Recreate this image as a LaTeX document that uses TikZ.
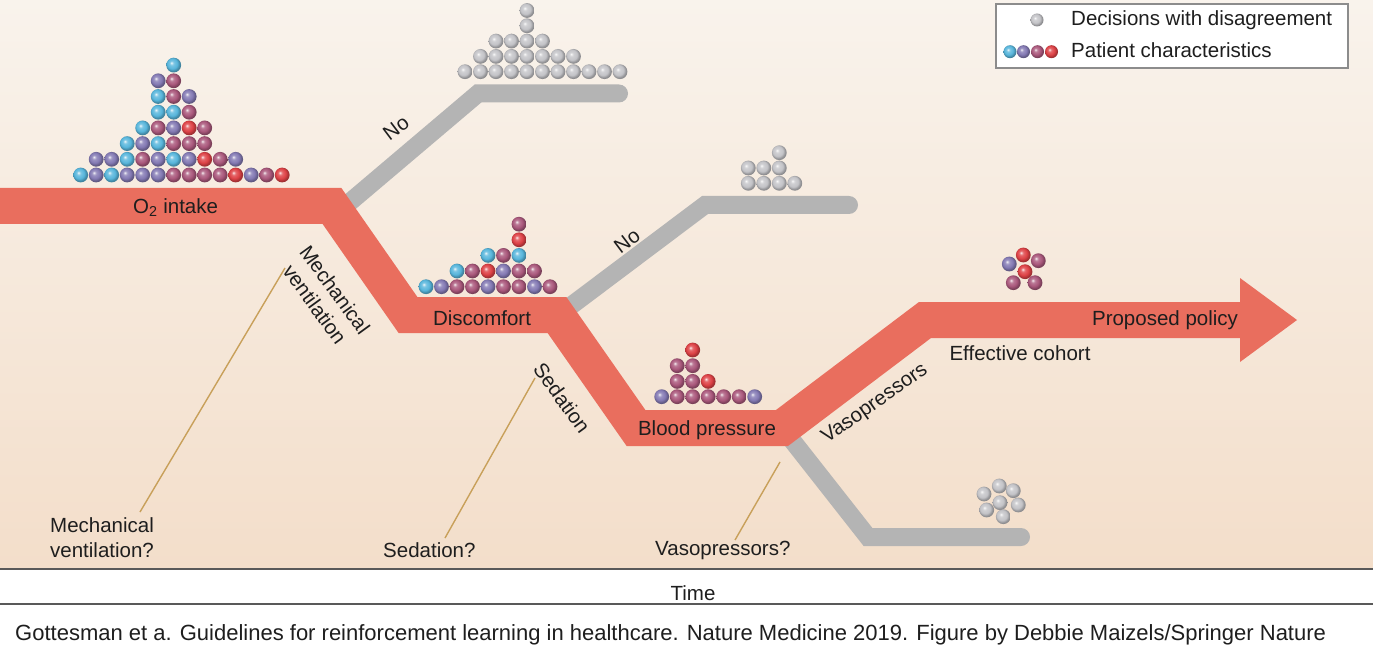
\documentclass[tikz,border=0pt]{standalone}
\usepackage{fontspec}
\setmainfont{Liberation Sans}
\definecolor{bgtop}{RGB}{249,243,236}
\definecolor{bgbot}{RGB}{243,222,202}
\definecolor{bandred}{RGB}{233,110,94}
\definecolor{branchgray}{RGB}{180,180,180}
\definecolor{tan}{RGB}{200,160,90}
\definecolor{txt}{RGB}{30,30,30}
\definecolor{cB}{RGB}{88,182,220}
\definecolor{cP}{RGB}{132,122,180}
\definecolor{cM}{RGB}{170,88,124}
\definecolor{cR}{RGB}{222,66,70}
\definecolor{cG}{RGB}{196,196,200}
\colorlet{softball}{cG}
\pgfdeclareradialshading[softball]{softball}{\pgfqpoint{-8bp}{8bp}}{color(0bp)=(softball!10!white); color(7bp)=(softball!80!white); color(17bp)=(softball); color(25bp)=(softball!72!black); color(50bp)=(softball!60!black)}
\tikzset{softball color/.style={/utils/exec={\colorlet{softball}{#1}}, shading=softball}}
\newcommand\ballrow[3]{\foreach \cc [count=\i from 0] in {#3} {\shade[softball color=\cc] ({#1+\i*15.5},#2) circle (7.4);}}
\newcommand\oneball[3]{\shade[softball color=#3] (#1,#2) circle (7.4);}
\begin{document}
\begin{tikzpicture}[x=1pt,y=-1pt,
  lbl/.style={font=\fontsize{20.5}{25}\selectfont, text=txt, inner sep=0pt},
  redband/.style={line width=36pt, draw=bandred, line join=miter, line cap=butt},
  graybranch/.style={line width=18pt, draw=branchgray, line join=miter, line cap=round},
  pointer/.style={draw=tan, line width=1.4pt},
  axisline/.style={draw=black!65, line width=2.2pt}]
\useasboundingbox (0,0) rectangle (1373,663);
% background
\shade[top color=bgtop, bottom color=bgbot] (0,0) rectangle (1373,569);
\fill[white] (0,569) rectangle (1373,663);
\draw[axisline] (0,569) -- (1373,569);
\draw[axisline] (0,604) -- (1373,604);
\node[lbl] (time) at (693,593) {Time};
\node[lbl, anchor=west, font=\fontsize{22}{26}\selectfont] (caption) at (15,635) {Gottesman et a. Guidelines for reinforcement learning in healthcare. Nature Medicine 2019. Figure by Debbie Maizels/Springer Nature};

% gray branches
\draw[graybranch] (337,213) -- (478,93.5) -- (619,93.5);
\draw[graybranch] (560,314) -- (705,205) -- (849,205);
\draw[graybranch] (780,425) -- (868,537) -- (1021,537);

% red band
\draw[redband] (-5,206) -- (332,206) -- (408,315) -- (557,315) -- (636,428) -- (782,428) -- (925,320) -- (1242,320);
\fill[bandred] (1240,278) -- (1297,320) -- (1240,362) -- cycle;

% pointer lines
\coordinate (mvA) at (140,512); \coordinate (mvB) at (285,268);
\coordinate (sdA) at (445,538); \coordinate (sdB) at (535,378);
\coordinate (vpA) at (735,540); \coordinate (vpB) at (780,462);
\draw[pointer] (mvA) -- (mvB);
\draw[pointer] (sdA) -- (sdB);
\draw[pointer] (vpA) -- (vpB);

% labels
\node[lbl, anchor=west, align=left] (mvq) at (50,537.5) {Mechanical\\ventilation?};
\node[lbl, anchor=west] (sdq) at (383,550) {Sedation?};
\node[lbl, anchor=west] (vpq) at (655,550) {Vasopressors?};
\node[lbl, anchor=west] (o2) at (133,208) {O\textsubscript{2} intake};
\node[lbl] (disc) at (482,318) {Discomfort};
\node[lbl] (bp) at (707,430) {Blood pressure};
\node[lbl] (pp) at (1165,320) {Proposed policy};
\node[lbl] (ec) at (1020,353) {Effective cohort};
\node[lbl, rotate=-54, align=center] (mv) at (325,297) {Mechanical\\ventilation};
\node[lbl, rotate=-54] (sd) at (562,398) {Sedation};
\node[lbl, rotate=35] (vp) at (875,404) {Vasopressors};
\node[lbl, rotate=37] (no1) at (396,128) {No};
\node[lbl, rotate=37] (no2) at (627,241) {No};

% pyramid 1 (O2 intake)
\ballrow{80.7}{175}{cB,cP,cB,cP,cP,cP,cM,cM,cM,cM,cR,cP,cM,cR}
\ballrow{96.2}{159.3}{cP,cP,cB,cM,cP,cB,cP,cR,cM,cP}
\ballrow{127.2}{143.6}{cB,cP,cB,cM,cM,cM}
\ballrow{142.7}{127.9}{cB,cM,cP,cR,cM}
\ballrow{158.2}{112.2}{cB,cB,cM}
\ballrow{158.2}{96.5}{cB,cM,cP}
\ballrow{158.2}{80.8}{cP,cM}
\ballrow{173.7}{65.1}{cB}
% pyramid 2 (gray top)
\ballrow{465}{71.7}{cG,cG,cG,cG,cG,cG,cG,cG,cG,cG,cG}
\ballrow{480.5}{56.4}{cG,cG,cG,cG,cG,cG,cG}
\ballrow{496}{41.1}{cG,cG,cG,cG}
\ballrow{527}{25.8}{cG}
\ballrow{527}{10.5}{cG}
% pyramid 3 (Discomfort)
\ballrow{426}{286.7}{cB,cP,cM,cM,cP,cM,cM,cP,cM}
\ballrow{457}{271}{cB,cM,cR,cP,cM,cM}
\ballrow{488}{255.4}{cB,cM,cB}
\ballrow{519}{239.8}{cR}
\ballrow{519}{224.2}{cM}
% pyramid 4 (Blood pressure)
\ballrow{661.7}{396.7}{cP,cM,cM,cM,cM,cM,cP}
\ballrow{677.2}{381.4}{cM,cM,cR}
\ballrow{677.2}{365.7}{cM,cM}
\ballrow{692.7}{350}{cR}
% pyramid 5 (gray middle)
\ballrow{748.3}{183.3}{cG,cG,cG,cG}
\ballrow{748.3}{168}{cG,cG,cG}
\ballrow{779.3}{152.7}{cG}
% effective cohort cluster
\oneball{1009.3}{264}{cP}
\oneball{1023.3}{255}{cR}
\oneball{1038.3}{260.7}{cM}
\oneball{1025}{271.7}{cR}
\oneball{1013.3}{282.7}{cM}
\oneball{1035}{282.7}{cM}
% gray bottom cluster
\oneball{999.3}{486}{cG}
\oneball{1013.3}{490.7}{cG}
\oneball{984}{494}{cG}
\oneball{1000}{502.7}{cG}
\oneball{1018.3}{505}{cG}
\oneball{986.7}{510}{cG}
\oneball{1003.3}{516.7}{cG}

% legend
\draw[draw=black!45, line width=1.2pt, fill=white] (996,4) rectangle (1348,68);
\shade[softball color=cG] (1037,20) circle (6.5);
\shade[softball color=cB] (1010,51.7) circle (6.5);
\shade[softball color=cP] (1023.5,51.7) circle (6.5);
\shade[softball color=cM] (1037.5,51.7) circle (6.5);
\shade[softball color=cR] (1051.5,51.7) circle (6.5);
\node[lbl, anchor=west] (lg1) at (1071,20) {Decisions with disagreement};
\node[lbl, anchor=west] (lg2) at (1071,50) {Patient characteristics};
\end{tikzpicture}
\end{document}
